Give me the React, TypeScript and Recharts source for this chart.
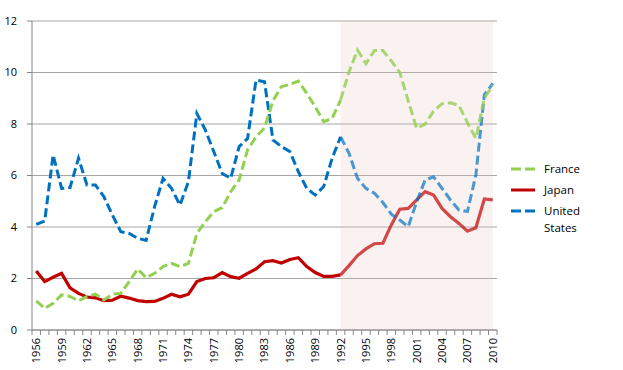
import React from 'react'
import {
  LineChart,
  Line,
  XAxis,
  YAxis,
  CartesianGrid,
  ReferenceArea,
} from 'recharts'

// ---------------------------------------------------------------------------
// Data (one value per year 1956–2010)
// ---------------------------------------------------------------------------

const firstYear = 1956
const lastYear = 2010
const splitYear = 1992

const france = [
  1.13, 0.84, 1.04, 1.36, 1.3, 1.13, 1.3, 1.39, 1.17, 1.39,
  1.42, 1.88, 2.37, 2.03, 2.2, 2.46, 2.59, 2.46, 2.59, 3.75,
  4.2, 4.6, 4.75, 5.37, 5.83, 7.0, 7.5, 7.85, 8.9, 9.45,
  9.54, 9.67, 9.19, 8.67, 8.09, 8.22, 8.93, 10.03, 10.87, 10.34,
  10.85, 10.85, 10.45, 10.0, 8.9, 7.83, 8.0, 8.5, 8.79, 8.82,
  8.72, 8.06, 7.44, 9.0, 9.5,
]

const japan = [
  2.29, 1.88, 2.05, 2.2, 1.64, 1.42, 1.28, 1.25, 1.14, 1.16,
  1.31, 1.24, 1.14, 1.1, 1.11, 1.23, 1.39, 1.29, 1.39, 1.88,
  2.0, 2.03, 2.23, 2.07, 2.01, 2.2, 2.37, 2.65, 2.69, 2.6,
  2.74, 2.81, 2.46, 2.23, 2.08, 2.08, 2.14, 2.5, 2.89, 3.15,
  3.35, 3.37, 4.08, 4.69, 4.72, 5.05, 5.37, 5.24, 4.72, 4.4,
  4.14, 3.84, 3.97, 5.09, 5.05,
]

const unitedStates = [
  4.1, 4.23, 6.8, 5.5, 5.53, 6.67, 5.63, 5.63, 5.18, 4.47,
  3.82, 3.75, 3.56, 3.48, 4.79, 5.89, 5.5, 4.85, 5.76, 8.41,
  7.77, 6.93, 6.08, 5.89, 7.12, 7.44, 9.71, 9.64, 7.38, 7.12,
  6.93, 6.15, 5.5, 5.24, 5.57, 6.67, 7.5, 6.86, 5.89, 5.5,
  5.31, 4.95, 4.5, 4.27, 4.01, 4.98, 5.83, 5.95, 5.5, 5.05,
  4.66, 4.6, 6.02, 9.13, 9.58,
]

const yTicks = [0, 2, 4, 6, 8, 10, 12]

// ---------------------------------------------------------------------------
// Derived table + axis ticks
// ---------------------------------------------------------------------------

const years = france.map((_, i) => firstYear + i)

const data = years.map((year, i) => ({
  year,
  francePre: year <= splitYear ? france[i] : null,
  francePost: year >= splitYear ? france[i] : null,
  japanPre: year <= splitYear ? japan[i] : null,
  japanPost: year >= splitYear ? japan[i] : null,
  usPre: year <= splitYear ? unitedStates[i] : null,
  usPost: year >= splitYear ? unitedStates[i] : null,
}))

// category boundaries get a tick mark, every third year gets a label
const xTicks = [
  ...years.map((y) => y - 0.5),
  lastYear + 0.5,
  ...years.filter((y) => (y - firstYear) % 3 === 0),
].sort((a, b) => a - b)

const FONT = '"Open Sans", "DejaVu Sans", sans-serif'
const AXIS = '#868686'
const GRID = '#a6a6a6'

const GREEN = '#92d050'
const RED = '#c00000'
const BLUE = '#0070c0'

function YearTick(props: any) {
  const { x, y, payload } = props
  const v = payload.value as number
  if (!Number.isInteger(v)) {
    return <line x1={x} x2={x} y1={y} y2={y + 5} stroke={AXIS} strokeWidth={1} />
  }
  return (
    <text
      x={x}
      y={y + 8}
      dy="0.36em"
      textAnchor="end"
      transform={`rotate(-90, ${x}, ${y + 8})`}
      fontFamily={FONT}
      fontSize={11}
      fill="#000"
    >
      {v}
    </text>
  )
}

const legendItems = [
  { label: ['France'], color: GREEN, dashed: true },
  { label: ['Japan'], color: RED, dashed: false },
  { label: ['United', 'States'], color: BLUE, dashed: true },
]

function ChartLegend() {
  return (
    <div
      style={{
        position: 'absolute',
        left: 511,
        top: 160,
        fontFamily: FONT,
        fontSize: 11.5,
        color: '#000',
        lineHeight: '17px',
      }}
    >
      {legendItems.map((item) => (
        <div key={item.label[0]} style={{ display: 'flex', alignItems: 'flex-start', marginBottom: 4 }}>
          <svg width={25} height={17} style={{ marginRight: 8, flex: 'none' }}>
            <line
              x1={0}
              x2={24}
              y1={9}
              y2={9}
              stroke={item.color}
              strokeWidth={3}
              strokeDasharray={item.dashed ? '10 4' : undefined}
            />
          </svg>
          <div>
            {item.label.map((l) => (
              <div key={l}>{l}</div>
            ))}
          </div>
        </div>
      ))}
    </div>
  )
}

export default function App() {
  return (
    <div style={{ position: 'absolute', left: 0, top: 0, width: 623, height: 370, background: '#fff' }}>
      <LineChart
        width={623}
        height={370}
        data={data}
        margin={{ top: 21, right: 126, left: 0, bottom: 0 }}
      >
        <CartesianGrid horizontal vertical={false} stroke={GRID} strokeWidth={1} />
        <ReferenceArea
          x1={splitYear}
          x2={lastYear}
          y1={0}
          y2={12}
          fill="#eac0c0"
          fillOpacity={0.22}
          stroke="none"
          ifOverflow="visible"
        />
        <XAxis
          dataKey="year"
          type="number"
          domain={[firstYear - 0.5, lastYear + 0.5]}
          ticks={xTicks}
          interval={0}
          tick={<YearTick />}
          tickLine={false}
          tickSize={0}
          tickMargin={0}
          axisLine={{ stroke: AXIS, strokeWidth: 1 }}
          height={40}
          allowDecimals
        />
        <YAxis
          domain={[0, 12]}
          ticks={yTicks}
          interval={0}
          width={32}
          tickSize={5}
          tickMargin={10}
          tickLine={{ stroke: AXIS }}
          axisLine={{ stroke: AXIS, strokeWidth: 1 }}
          tick={{ fontFamily: FONT, fontSize: 11, fill: '#000' }}
        />
        <Line dataKey="japanPre" stroke={RED} strokeWidth={3.2} dot={false} isAnimationActive={false} type="linear" />
        <Line dataKey="japanPost" stroke={RED} strokeOpacity={0.7} strokeWidth={3.2} dot={false} isAnimationActive={false} type="linear" />
        <Line dataKey="usPre" stroke={BLUE} strokeWidth={3} strokeDasharray="9 4" dot={false} isAnimationActive={false} type="linear" />
        <Line dataKey="usPost" stroke={BLUE} strokeOpacity={0.7} strokeWidth={3} strokeDasharray="9 4" dot={false} isAnimationActive={false} type="linear" />
        <Line dataKey="francePre" stroke={GREEN} strokeWidth={3} strokeDasharray="9 4" dot={false} isAnimationActive={false} type="linear" />
        <Line dataKey="francePost" stroke={GREEN} strokeOpacity={0.8} strokeWidth={3} strokeDasharray="9 4" dot={false} isAnimationActive={false} type="linear" />
      </LineChart>
      <ChartLegend />
    </div>
  )
}
